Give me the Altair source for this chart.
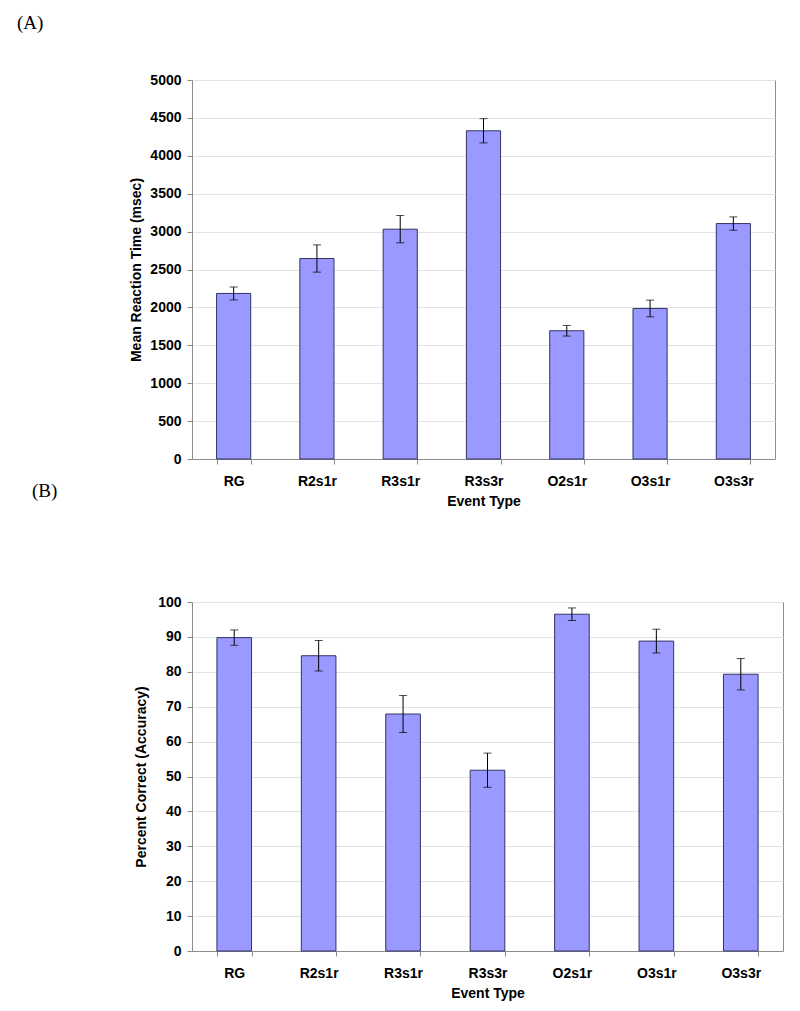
import altair as alt
import pandas as pd

# ---- data ----
events = ["RG", "R2s1r", "R3s1r", "R3s3r", "O2s1r", "O3s1r", "O3s3r"]

rt_mean = [2184, 2645, 3032, 4330, 1692, 1986, 3106]
rt_err = [85, 180, 180, 160, 70, 110, 88]
rt_ticks = [0, 500, 1000, 1500, 2000, 2500, 3000, 3500, 4000, 4500, 5000]

acc_mean = [89.8, 84.6, 67.9, 51.8, 96.5, 88.8, 79.3]
acc_err = [2.2, 4.4, 5.3, 4.9, 1.8, 3.4, 4.5]
acc_ticks = [0, 10, 20, 30, 40, 50, 60, 70, 80, 90, 100]

FONT = "Liberation Sans"
SERIF = "Liberation Serif"
BAR_FILL = "#9999ff"
BAR_EDGE = "#333366"
FRAME = "#8c8c8c"


def panel(values, errs, ticks, ytitle, width, height, ymax, title_pad, title=None):
    df = pd.DataFrame({"event": events, "mean": values, "err": errs})
    base = alt.Chart(df).transform_calculate(
        lo="datum.mean - datum.err", hi="datum.mean + datum.err"
    )
    xscale = alt.Scale(paddingInner=0.59, paddingOuter=0.295)
    xaxis = alt.Axis(labelAngle=0, tickBand="extent", grid=False,
                     labelPadding=10, titlePadding=6)
    x = alt.X("event:N", sort=events, title="Event Type", scale=xscale, axis=xaxis)
    yscale = alt.Scale(domain=[0, ymax], nice=False)
    yaxis = alt.Axis(values=ticks, format="d", labelOverlap=False, grid=True,
                     gridColor="#e2e2e2", labelPadding=6, titlePadding=title_pad)
    y = alt.Y("mean:Q", title=ytitle, scale=yscale, axis=yaxis)
    y_lo = alt.Y("lo:Q", title=ytitle, scale=yscale, axis=yaxis)
    y_hi = alt.Y("hi:Q", title=ytitle, scale=yscale, axis=yaxis)

    bars = base.mark_bar(color=BAR_FILL, stroke=BAR_EDGE, strokeWidth=1).encode(x=x, y=y)
    rule = base.mark_rule(color="black", strokeWidth=1).encode(x=x, y=y_lo, y2="hi:Q")
    cap_lo = base.mark_tick(color="black", orient="horizontal", size=8, thickness=1).encode(
        x=x, y=y_lo
    )
    cap_hi = base.mark_tick(color="black", orient="horizontal", size=8, thickness=1).encode(
        x=x, y=y_hi
    )
    props = dict(width=width, height=height)
    if title is not None:
        props["title"] = title
    return alt.layer(bars, rule, cap_lo, cap_hi).properties(**props)


chart_a = panel(
    rt_mean, rt_err, rt_ticks, "Mean Reaction Time (msec)", 583, 379, 5000, 6,
    title=alt.TitleParams(
        "(B)", orient="bottom", anchor="start", frame="group",
        dx=-160, dy=-26, offset=0, font=SERIF, fontSize=19,
        fontWeight="normal", color="black", baseline="top",
    ),
)
chart_b = panel(acc_mean, acc_err, acc_ticks, "Percent Correct (Accuracy)", 591, 349, 100, 9)

chart = (
    alt.vconcat(chart_a, chart_b, spacing=85)
    .properties(
        title=alt.TitleParams(
            "(A)", anchor="start", frame="group", dx=-175, offset=40,
            font=SERIF, fontSize=19, fontWeight="normal", color="black",
        ),
        padding={"left": 9, "top": 5, "right": 5, "bottom": 5},
    )
    .configure_axis(
        labelFont=FONT, labelFontSize=14, labelFontWeight="bold", labelColor="black",
        titleFont=FONT, titleFontSize=14, titleFontWeight="bold", titleColor="black",
        domainColor=FRAME, tickColor=FRAME, tickSize=5,
    )
    .configure_view(stroke=FRAME, strokeWidth=1)
)

chart.save("out.html", embed_options={"renderer": "svg", "actions": False})
